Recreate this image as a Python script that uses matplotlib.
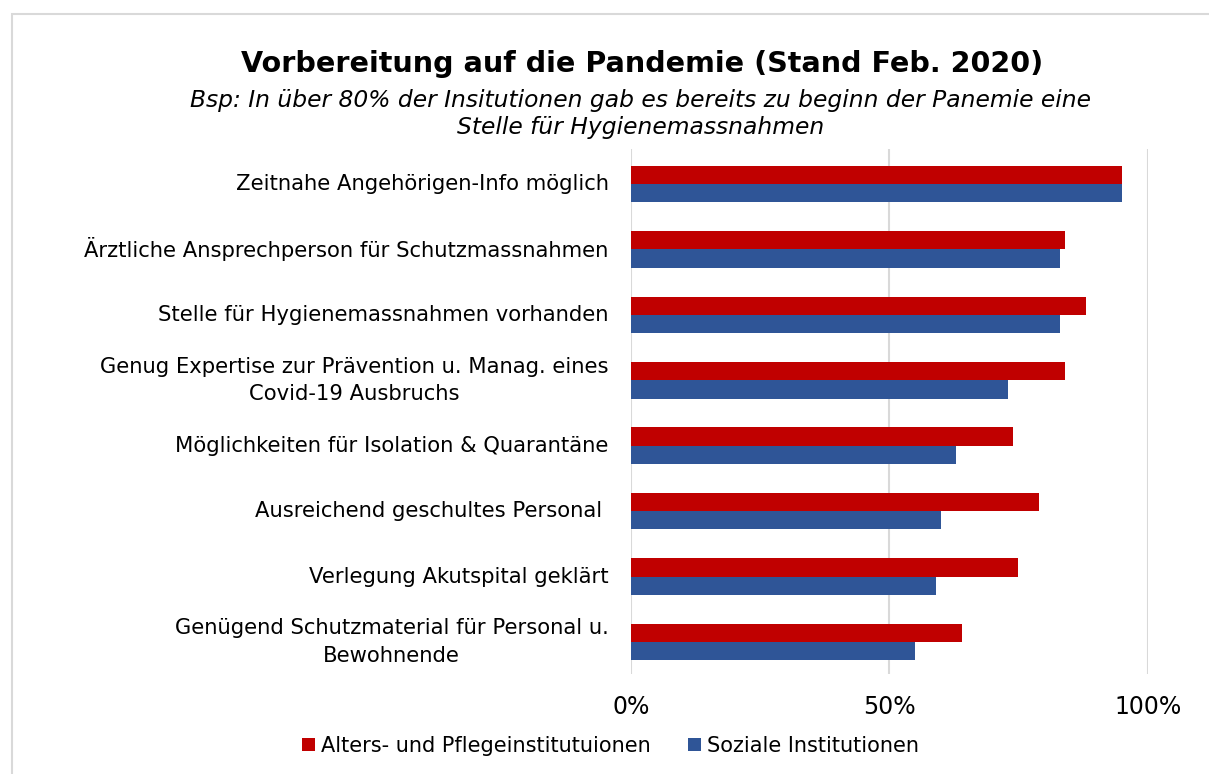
import numpy as np
import matplotlib.pyplot as plt
from matplotlib.patches import Rectangle

plt.rcParams['font.family'] = ['DejaVu Sans']

categories = [
    "Zeitnahe Angehörigen-Info möglich",
    "Ärztliche Ansprechperson für Schutzmassnahmen",
    "Stelle für Hygienemassnahmen vorhanden",
    "Genug Expertise zur Prävention u. Manag. eines\nCovid-19 Ausbruchs",
    "Möglichkeiten für Isolation & Quarantäne",
    "Ausreichend geschultes Personal ",
    "Verlegung Akutspital geklärt",
    "Genügend Schutzmaterial für Personal u.\nBewohnende",
]
alters_pflege = [95, 84, 88, 84, 74, 79, 75, 64]
soziale = [95, 83, 83, 73, 63, 60, 59, 55]
series_names = ["Alters- und Pflegeinstitutuionen", "Soziale Institutionen"]
colors = ["#C00000", "#2F5597"]

fig = plt.figure(figsize=(12.09, 7.74), dpi=100)
ax = fig.add_axes([0.5218, 0.1292, 0.4274, 0.6783])

y = np.arange(len(categories))
h = 0.28
ax.barh(y - h / 2, alters_pflege, height=h, color=colors[0], label=series_names[0])
ax.barh(y + h / 2, soziale, height=h, color=colors[1], label=series_names[1])

ax.set_ylim(len(categories) - 0.51, -0.535)
ax.set_xlim(0, 100)
ax.set_xticks([0, 50, 100])
ax.set_xticklabels(["0%", "50%", "100%"], fontsize=17)
ax.set_yticks(y)
ax.set_yticklabels(categories, fontsize=15.2, multialignment='center', linespacing=1.45)
for lab in ax.get_yticklabels():
    lab.set_va('center')
ax.tick_params(axis='y', length=0, pad=16)
ax.tick_params(axis='x', length=0, pad=15)
ax.grid(axis='x', color='#d9d9d9', linewidth=1.5)
ax.set_axisbelow(True)
for s in ax.spines.values():
    s.set_visible(False)

fig.text(0.531, 0.917, "Vorbereitung auf die Pandemie (Stand Feb. 2020)",
         ha='center', va='center', fontsize=20.6, fontweight='bold')
fig.text(0.530, 0.853, "Bsp: In über 80% der Insitutionen gab es bereits zu beginn der Panemie eine\nStelle für Hygienemassnahmen",
         ha='center', va='center', fontsize=16.8, style='italic', linespacing=1.2)

fig.legend(loc='center', bbox_to_anchor=(0.505, 0.036), ncol=2, frameon=False,
           fontsize=15, handlelength=0.6, handleheight=0.6, handletextpad=0.3,
           columnspacing=1.8)

fig.patches.append(Rectangle((0.010, -0.01), 1.0, 0.992, transform=fig.transFigure,
                             fill=False, edgecolor='#d9d9d9', linewidth=1.5))

fig.savefig("out.png", dpi=100)
